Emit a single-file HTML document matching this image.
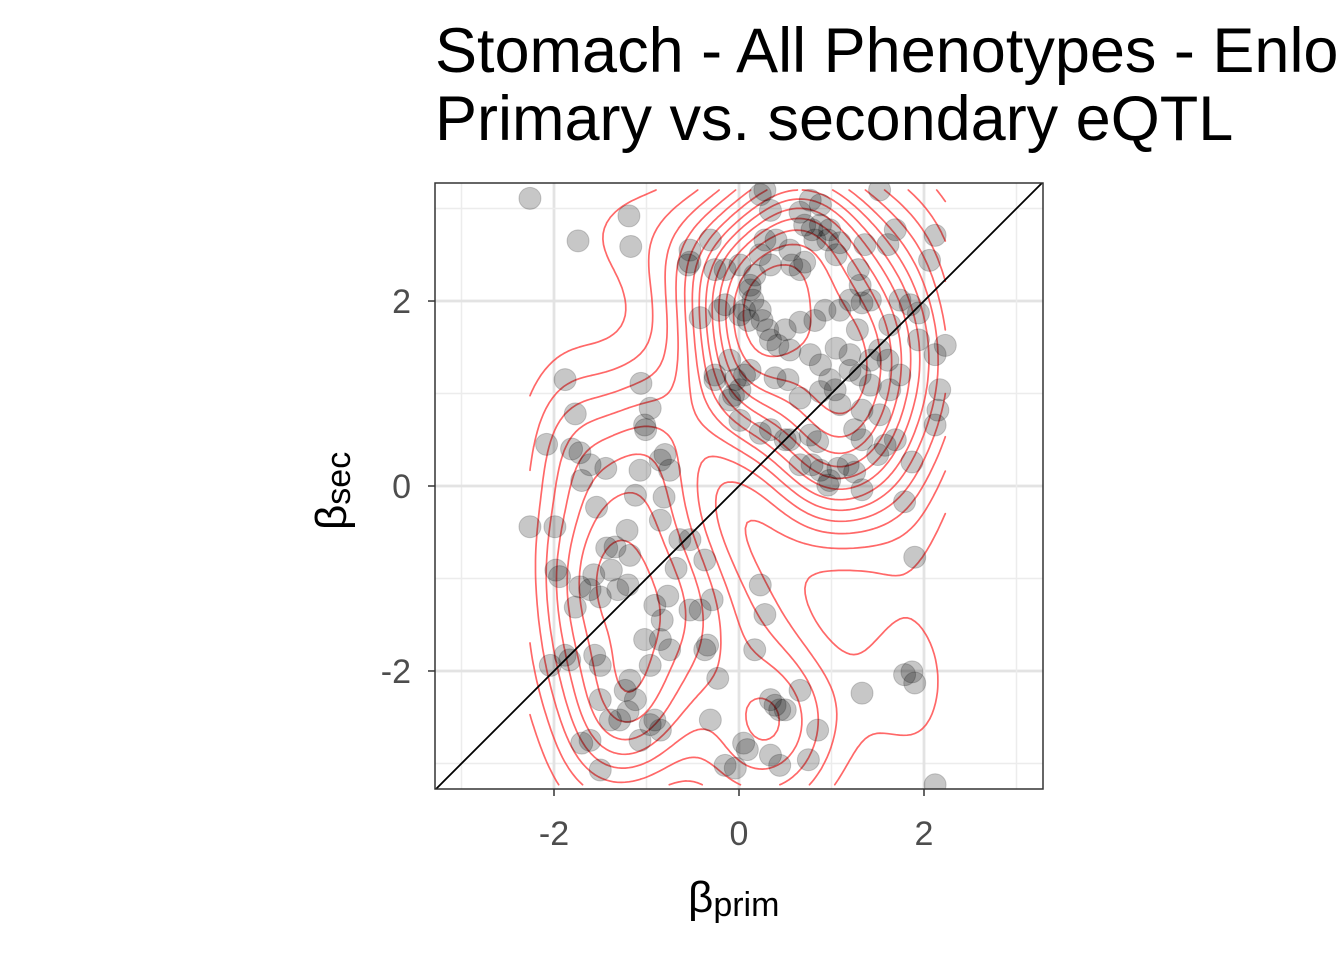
<!DOCTYPE html>
<html><head><meta charset="utf-8"><style>
html,body{margin:0;padding:0;background:#fff;width:1344px;height:960px;overflow:hidden}
svg{display:block}
text{font-family:"Liberation Sans",Arial,sans-serif}
</style></head><body>
<svg id="chart" width="1344" height="960">
<text x="435" y="72" font-size="63" fill="#000">Stomach - All Phenotypes - Enlo</text>
<text x="435" y="140" font-size="63" fill="#000">Primary vs. secondary eQTL</text>
<defs><clipPath id="pc"><rect x="435" y="183" width="608" height="606"/></clipPath></defs>
<g id="grid"></g>
<g id="contours" clip-path="url(#pc)"></g>
<g id="points" clip-path="url(#pc)"></g>
<g id="diag" clip-path="url(#pc)"></g>
<rect x="435" y="183" width="608" height="606" fill="none" stroke="#333" stroke-width="1.5"/>
<g id="axes"></g>
<text x="688" y="912" font-size="44" fill="#000">β<tspan font-size="34" dy="4">prim</tspan></text>
<text transform="translate(346,530) rotate(-90)" font-size="44" fill="#000">β<tspan font-size="34" dy="4">sec</tspan></text>
</svg>
<script>
const xTicks=[-2,0,2];
const yTicks=[-2,0,2];
const xs=[-2.26,-1.19,-1.17,-1.74,-1.88,-1.77,-2.08,-1.81,-1.72,-1.70,-1.61,-1.44,-1.54,-2.26,-1.99,-1.98,-1.94,-1.77,-1.72,-1.61,-1.50,-1.57,-1.43,-1.34,-1.21,-1.18,-1.38,-1.31,-1.20,-1.07,-0.96,-1.02,-1.01,-1.06,-0.85,-0.80,-0.75,-1.12,-0.85,-0.81,-0.64,-0.53,-0.68,-0.77,-0.91,-0.83,-0.85,-0.75,-1.02,-0.96,-1.18,-1.23,-1.12,-1.07,-0.96,-0.91,-0.85,-1.39,-1.61,-1.50,-1.70,-2.04,-1.88,-1.83,-1.56,-1.50,-1.50,-1.29,-1.20,-0.53,-0.42,-0.34,-0.37,-0.29,-0.37,-0.31,-0.23,-0.15,-0.04,0.05,0.09,0.23,0.28,0.17,0.34,0.39,0.44,0.50,0.34,0.44,0.66,0.75,0.85,1.33,1.87,1.90,1.79,1.90,2.12,1.79,1.87,1.69,1.58,1.50,1.33,1.33,1.25,1.18,1.07,0.98,0.96,0.88,0.79,0.66,0.55,0.77,0.85,0.50,0.34,0.23,0.01,-0.04,-0.10,-0.26,0.01,0.12,0.39,0.53,0.66,0.88,0.98,1.04,1.09,1.20,1.28,1.33,1.42,1.31,1.29,1.36,1.61,1.69,1.52,0.88,0.77,0.66,0.71,0.79,0.88,0.98,1.09,1.05,0.96,0.82,0.71,0.66,0.55,0.57,0.40,0.28,0.23,0.34,0.28,0.23,0.34,0.17,0.12,0.06,0.15,0.23,0.25,0.31,0.34,0.42,0.50,0.55,0.66,0.82,0.93,1.09,1.20,0.77,0.88,1.05,1.20,1.31,1.42,1.52,1.63,1.74,1.63,1.61,1.42,1.33,1.25,1.52,1.94,2.12,2.06,2.12,2.23,2.17,2.15,2.12,1.74,1.85,1.94,-0.26,-0.15,0.01,-0.53,-0.55,-0.31,-0.42,-0.21,-0.15,0.01,0.10,-0.10,-0.26,-0.06,0.06,0.12,-0.53];
const ys=[3.11,2.92,2.59,2.65,1.15,0.78,0.45,0.40,0.36,0.06,0.23,0.19,-0.23,-0.44,-0.44,-0.91,-0.98,-1.31,-1.09,-1.12,-1.20,-0.96,-0.67,-0.66,-0.48,-0.75,-0.91,-1.12,-1.07,0.17,0.84,0.66,0.61,1.11,0.28,0.34,0.17,-0.10,-0.37,-0.12,-0.58,-0.58,-0.89,-1.19,-1.29,-1.45,-1.66,-1.77,-1.66,-1.94,-2.10,-2.21,-2.31,-2.75,-2.58,-2.53,-2.64,-2.53,-2.75,-3.07,-2.78,-1.94,-1.83,-1.88,-1.83,-1.94,-2.31,-2.53,-2.44,-1.34,-1.34,-1.72,-1.77,-1.23,-0.80,-2.53,-2.08,-3.02,-3.05,-2.78,-2.85,-1.07,-1.39,-1.77,-2.31,-2.37,-2.42,-2.42,-2.91,-3.02,-2.21,-2.96,-2.64,-2.24,-2.01,-2.13,-2.04,-0.77,-3.23,-0.17,0.26,0.50,0.44,0.34,0.50,-0.04,0.15,0.23,0.19,0.06,0.01,0.17,0.23,0.23,0.50,0.55,0.48,0.50,0.61,0.57,0.71,1.15,0.93,1.15,1.04,1.25,1.17,1.15,0.95,1.02,1.15,1.04,0.88,1.42,1.69,1.98,2.01,2.17,2.34,2.61,2.61,2.77,3.20,3.04,3.09,2.96,2.82,2.77,2.82,2.77,2.63,2.50,2.66,2.66,2.42,2.34,2.55,2.39,2.66,2.66,2.50,2.39,3.20,3.15,2.98,2.28,2.17,1.90,2.01,1.90,1.79,1.69,1.58,1.52,1.69,1.47,1.77,1.79,1.90,1.90,2.01,1.42,1.31,1.49,1.25,1.20,1.36,1.47,1.04,1.20,1.74,1.36,1.09,0.82,0.61,0.77,1.58,2.71,2.44,1.42,1.52,1.04,0.82,0.66,2.01,1.96,1.87,2.34,2.34,2.39,2.42,2.39,2.66,1.82,1.90,1.96,1.85,1.79,1.36,1.20,0.98,1.20,2.12,2.55];

const NS="http://www.w3.org/2000/svg";
const X0=435,X1=1043,Y0=183,Y1=789,XMIN=-3.2865,XMAX=3.2865,YMIN=-3.276,YMAX=3.276;
function sx(v){return X0+(v-XMIN)/(XMAX-XMIN)*(X1-X0);}
function sy(v){return Y1-(v-YMIN)/(YMAX-YMIN)*(Y1-Y0);}
function mk(tag,attrs,parent){const e=document.createElementNS(NS,tag);for(const k in attrs)e.setAttribute(k,attrs[k]);parent.appendChild(e);return e;}

const grid=document.getElementById('grid');
for(let v=-3;v<=3;v+=1){
  const major=v%2===0;
  const gx=mk('line',{x1:sx(v),x2:sx(v),y1:Y0,y2:Y1,stroke:major?'#e3e3e3':'#ececec','stroke-width':major?2.8:1.5},grid);
  
  
  const gy=mk('line',{y1:sy(v),y2:sy(v),x1:X0,x2:X1,stroke:major?'#e3e3e3':'#ececec','stroke-width':major?2.8:1.5},grid);
  
  
}

function quantile(a,p){const s=[...a].sort((x,y)=>x-y);const h=(s.length-1)*p;const l=Math.floor(h);return s[l]+(s[Math.min(l+1,s.length-1)]-s[l])*(h-l);}
function bw(a){const n=a.length;const m=a.reduce((s,v)=>s+v,0)/n;const sd=Math.sqrt(a.reduce((s,v)=>s+(v-m)*(v-m),0)/(n-1));const iqr=quantile(a,0.75)-quantile(a,0.25);return 4*1.06*Math.min(sd,iqr/1.34)*Math.pow(n,-0.2);}
const n=xs.length,G=110;
const hx=bw(xs)/4*0.92,hy=bw(ys)/4*0.9;
const gxmin=Math.min(...xs),gxmax=Math.max(...xs),gymin=Math.min(...ys),gymax=Math.max(...ys);
const gxv=[],gyv=[];
for(let i=0;i<G;i++){gxv.push(gxmin+(gxmax-gxmin)*i/(G-1));gyv.push(gymin+(gymax-gymin)*i/(G-1));}
const Z=[];let zmax=0,zmin=Infinity;
for(let i=0;i<G;i++){Z.push([]);for(let j=0;j<G;j++){let s=0;for(let k=0;k<n;k++){const a=(gxv[i]-xs[k])/hx,b=(gyv[j]-ys[k])/hy;s+=Math.exp(-0.5*(a*a+b*b));}
 const z=s/(n*2*Math.PI*hx*hy);Z[i].push(z);if(z>zmax)zmax=z;if(z<zmin)zmin=z;}}
const NL=13;
const levels=[];for(let k=1;k<=NL;k++)levels.push(zmin+(zmax-zmin)*k/(NL+1));
const cg=document.getElementById('contours');
levels.forEach(L=>{
  let d='';
  for(let i=0;i<G-1;i++)for(let j=0;j<G-1;j++){
    const c=[[i,j],[i+1,j],[i+1,j+1],[i,j+1]];
    const v=c.map(p=>Z[p[0]][p[1]]);
    const pts=[];
    for(let e=0;e<4;e++){const a=e,b=(e+1)%4;const va=v[a],vb=v[b];
      if((va<L)!==(vb<L)){const t=(L-va)/(vb-va);
        const xa=gxv[c[a][0]],ya=gyv[c[a][1]],xb=gxv[c[b][0]],yb=gyv[c[b][1]];
        pts.push([sx(xa+(xb-xa)*t),sy(ya+(yb-ya)*t)]);}}
    for(let k=0;k+1<pts.length;k+=2)d+=`M${pts[k][0].toFixed(1)},${pts[k][1].toFixed(1)}L${pts[k+1][0].toFixed(1)},${pts[k+1][1].toFixed(1)}`;
  }
  const p=mk('path',{d:d,fill:'none',stroke:'rgba(255,40,40,0.7)','stroke-width':1.7,'stroke-linecap':'round'},cg);
  
  
});

const pg=document.getElementById('points');
for(let k=0;k<n;k++){
  const c=mk('circle',{cx:sx(xs[k]),cy:sy(ys[k]),r:11,fill:'rgba(0,0,0,0.22)',stroke:'rgba(0,0,0,0.18)','stroke-width':1},pg);
  
  
}

const dl=mk('line',{x1:sx(XMIN),y1:sy(XMIN),x2:sx(XMAX),y2:sy(XMAX),stroke:'#000','stroke-width':1.8},document.getElementById('diag'));



const ax=document.getElementById('axes');
xTicks.forEach(v=>{
  const t=mk('line',{x1:sx(v),x2:sx(v),y1:Y1,y2:Y1+7,stroke:'#333','stroke-width':1.5},ax);
  
  
  const l=mk('text',{x:sx(v),y:Y1+56,'text-anchor':'middle','font-size':34,fill:'#4d4d4d'},ax);
  l.textContent=v;
  
  
});
yTicks.forEach(v=>{
  const t=mk('line',{x1:X0-7,x2:X0,y1:sy(v),y2:sy(v),stroke:'#333','stroke-width':1.5},ax);
  
  
  const l=mk('text',{x:X0-24,y:sy(v)+12,'text-anchor':'end','font-size':34,fill:'#4d4d4d'},ax);
  l.textContent=v;
  
  
});
</script>
</body></html>
